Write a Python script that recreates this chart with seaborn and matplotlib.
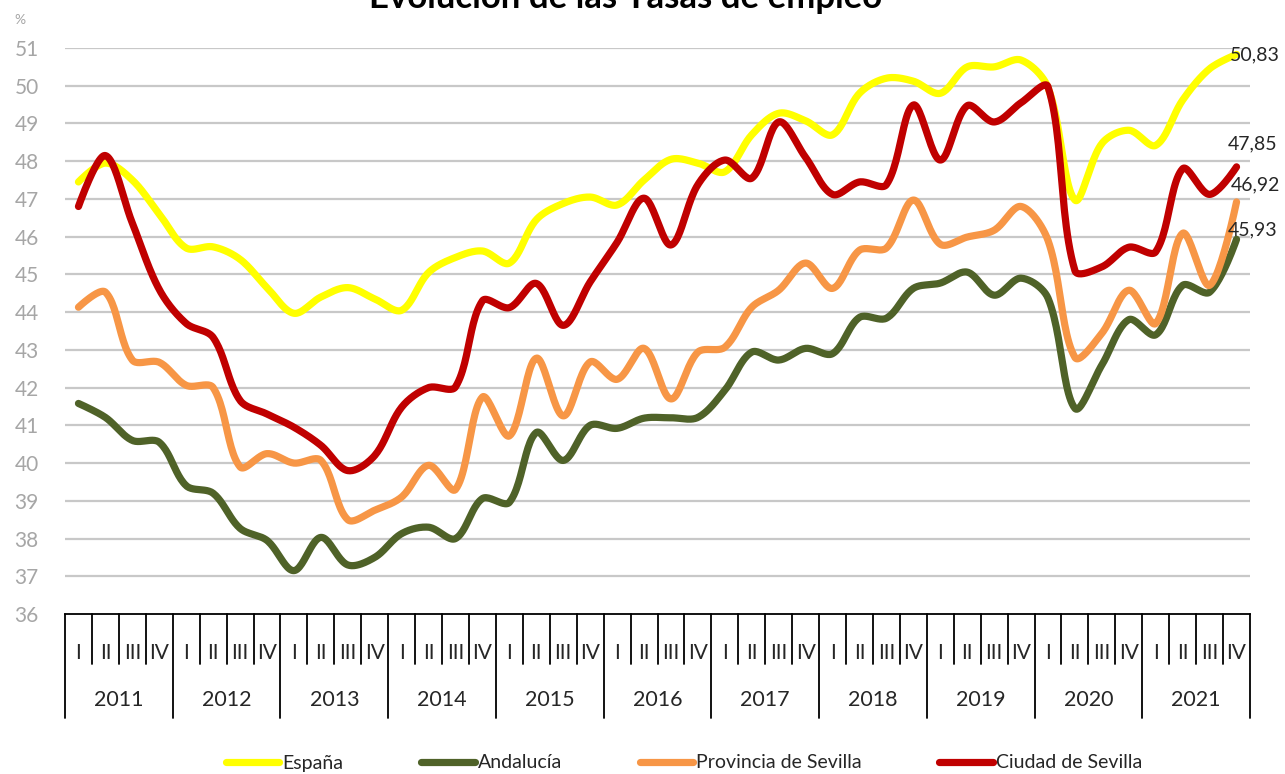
""" Evolución de las tasas de empleo (2011-2021)

Gráfico de líneas suavizadas por trimestre, con eje de categorías
en dos niveles (trimestre / año).
"""

import numpy as np
import pandas as pd
import matplotlib
matplotlib.use("Agg")
import matplotlib.pyplot as plt
import matplotlib.transforms as mtransforms
from matplotlib.lines import Line2D
import seaborn as sns

# Datos
anios = ["2011", "2012", "2013", "2014", "2015", "2016",
         "2017", "2018", "2019", "2020", "2021"]
trimestres = ["I", "II", "III", "IV"]

espana = [47.45, 47.95, 47.50, 46.60, 45.70, 45.73, 45.40, 44.65,
          43.97, 44.40, 44.65, 44.35, 44.05, 45.05, 45.45, 45.62,
          45.30, 46.45, 46.88, 47.05, 46.84, 47.50, 48.05, 47.95,
          47.72, 48.70, 49.27, 49.07, 48.70, 49.80, 50.20, 50.12,
          49.80, 50.50, 50.50, 50.68, 49.95, 46.97, 48.47, 48.82,
          48.42, 49.62, 50.45, 50.83]
andalucia = [41.58, 41.21, 40.60, 40.55, 39.40, 39.20, 38.27, 37.95,
             37.15, 38.03, 37.30, 37.50, 38.13, 38.30, 38.00, 39.06,
             38.96, 40.81, 40.07, 41.00, 40.92, 41.19, 41.20, 41.21,
             41.93, 42.94, 42.73, 43.04, 42.90, 43.86, 43.84, 44.63,
             44.77, 45.06, 44.45, 44.90, 44.37, 41.45, 42.60, 43.80,
             43.40, 44.71, 44.53, 45.93]
provincia = [44.13, 44.53, 42.73, 42.67, 42.06, 42.00, 39.90, 40.25,
             40.00, 40.07, 38.50, 38.75, 39.10, 39.94, 39.30, 41.75,
             40.72, 42.78, 41.25, 42.68, 42.22, 43.04, 41.70, 42.94,
             43.07, 44.13, 44.58, 45.30, 44.63, 45.64, 45.70, 46.97,
             45.80, 45.99, 46.17, 46.80, 45.90, 42.80, 43.44, 44.58,
             43.70, 46.09, 44.71, 46.92]
ciudad = [46.80, 48.15, 46.36, 44.60, 43.70, 43.33, 41.66, 41.30,
          40.95, 40.47, 39.80, 40.20, 41.48, 42.00, 42.02, 44.30,
          44.12, 44.76, 43.65, 44.80, 45.85, 47.02, 45.78, 47.38,
          48.03, 47.55, 49.04, 48.10, 47.12, 47.45, 47.38, 49.49,
          48.03, 49.47, 49.04, 49.55, 49.97, 45.10, 45.20, 45.72,
          45.60, 47.80, 47.12, 47.85]

series = ["España", "Andalucía", "Provincia de Sevilla", "Ciudad de Sevilla"]
valores = [espana, andalucia, provincia, ciudad]
colores = ["#FFFF00", "#4F6228", "#F79646", "#C00000"]
etiquetas = ["50,83", "45,93", "46,92", "47,85"]
# desplazamiento de cada etiqueta final (pixeles)
desplaz = [(-7, 0), (-9, 9), (-6, 17), (-9, 23)]

# escala aproximada en pantalla (px por unidad) para el suavizado
PX_X, PX_Y = 26.9, 37.7


def suavizar(y, pasos=24, tension=1 / 3):
    """Bezier por tramos con puntos de control proporcionales a la longitud
    de cada tramo (parecido a las líneas suavizadas de Excel)."""
    y = np.asarray(y, dtype=float)
    n = len(y)
    P = np.column_stack([np.arange(n) * PX_X, y * PX_Y])
    c_sal = np.zeros_like(P)
    c_ent = np.zeros_like(P)
    for i in range(n):
        if i == 0 or i == n - 1:
            c_sal[i] = P[i]
            c_ent[i] = P[i]
            continue
        d1 = np.linalg.norm(P[i] - P[i - 1])
        d2 = np.linalg.norm(P[i + 1] - P[i])
        tang = P[i + 1] - P[i - 1]
        c_ent[i] = P[i] - tension * tang * d1 / (d1 + d2)
        c_sal[i] = P[i] + tension * tang * d2 / (d1 + d2)
    t = np.linspace(0, 1, pasos, endpoint=False)[:, None]
    pts = []
    for i in range(n - 1):
        b = ((1 - t) ** 3 * P[i] + 3 * (1 - t) ** 2 * t * c_sal[i]
             + 3 * (1 - t) * t ** 2 * c_ent[i + 1] + t ** 3 * P[i + 1])
        pts.append(b)
    pts.append(P[-1:])
    pts = np.vstack(pts)
    return pts[:, 0] / PX_X, pts[:, 1] / PX_Y


filas = []
for nombre, vals in zip(series, valores):
    xs, ys = suavizar(vals)
    for x, y in zip(xs, ys):
        filas.append({"serie": nombre, "x": x, "y": y})
df = pd.DataFrame(filas)

sns.set_theme(style="white")
plt.rcParams["font.family"] = ["Lato", "DejaVu Sans"]

fig = plt.figure(figsize=(12.85, 7.74), dpi=100)
ax = fig.add_axes([65 / 1285, 1 - 614 / 774, (1250 - 65) / 1285, (614 - 48) / 774])

n = len(espana)
ax.set_xlim(-0.5, n - 0.5)
ax.set_ylim(36, 51)

# rejilla horizontal
for v in range(37, 52):
    ax.axhline(v, color="#C8C8C8", lw=1.6, zorder=0)

sns.lineplot(data=df, x="x", y="y", hue="serie", hue_order=series,
             palette=dict(zip(series, colores)), linewidth=5.2,
             sort=False, estimator=None, legend=False, ax=ax,
             solid_capstyle="round", clip_on=False)

# etiquetas del último valor
for vals, txt, off in zip(valores, etiquetas, desplaz):
    ax.annotate(txt, xy=(n - 1, vals[-1]), xytext=off, textcoords="offset pixels",
                ha="left", va="center", fontsize=14, color="#262626",
                annotation_clip=False)

# ejes
for s in ["left", "right", "top"]:
    ax.spines[s].set_visible(False)
ax.spines["bottom"].set_color("black")
ax.spines["bottom"].set_linewidth(1.3)
ax.set_xticks([])
ax.set_yticks(range(36, 52))
ax.set_yticklabels([str(v) for v in range(36, 52)], fontsize=15, color="#A6A6A6")
ax.tick_params(axis="y", length=0, pad=19)
ax.set_xlabel("")
ax.set_ylabel("")

# eje de categorías en dos niveles
trans = mtransforms.blended_transform_factory(ax.transData, ax.transAxes)
alto = 614 - 48
y_trim = -50 / alto
y_anio = -104 / alto
for i in range(n + 1):
    fondo = y_anio if i % 4 == 0 else y_trim
    ax.plot([i - 0.5, i - 0.5], [0, fondo], color="black", lw=1.3,
            transform=trans, clip_on=False)
for i in range(n):
    ax.text(i, -39 / alto, trimestres[i % 4], transform=trans, ha="center",
            va="center", fontsize=15, color="#262626")
for k, a in enumerate(anios):
    ax.text(4 * k + 1.5, -86 / alto, a, transform=trans, ha="center",
            va="center", fontsize=15.5, color="#262626")

# título (cortado en la parte superior, como en el original)
fig.text(0.487, 1 - 8 / 774, "Evolución de las Tasas de empleo", ha="center",
         va="baseline", fontsize=25, fontweight="bold", color="black")
fig.text(20 / 1285, 1 - 20 / 774, "%", ha="center", va="center",
         fontsize=10, color="#A6A6A6")

# leyenda
manejadores = [Line2D([0], [0], color=c, lw=5.2, solid_capstyle="round") for c in colores]
fig.legend(manejadores, series, loc="center", bbox_to_anchor=(684 / 1285, 1 - 763 / 774),
           ncol=4, frameon=False, fontsize=14, handlelength=2.75, handletextpad=0.15,
           columnspacing=4.0, labelcolor="#262626", borderpad=0)

fig.savefig("out.png", dpi=100)
